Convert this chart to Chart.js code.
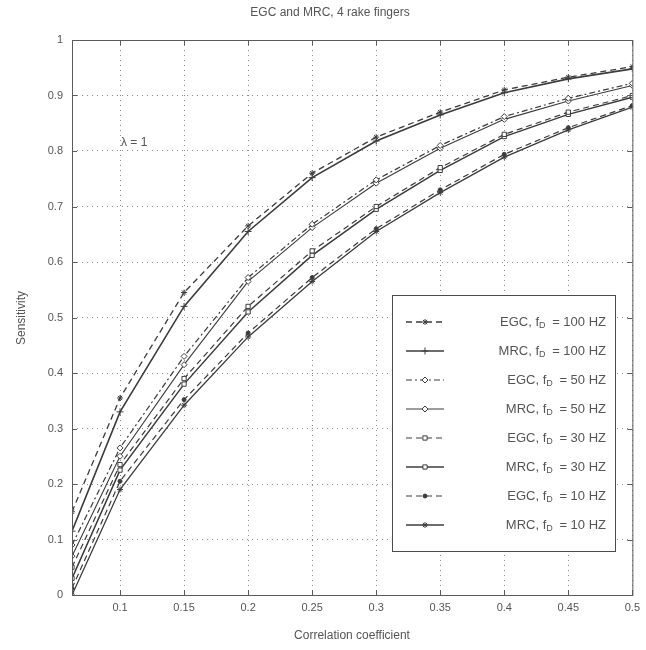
<!DOCTYPE html>
<html>
<head>
<meta charset="utf-8">
<script src="https://cdn.jsdelivr.net/npm/chart.js@4.4.1/dist/chart.umd.min.js"></script>
<style>
  html, body { margin: 0; padding: 0; background: #fff; }
  #wrap { width: 646px; height: 650px; }
</style>
</head>
<body>
<div id="wrap"><canvas id="chart" width="646" height="650"></canvas></div>
<script>
// correlation coefficient (x) and sensitivity for each combiner / doppler
const rho = [0.0625, 0.1, 0.15, 0.2, 0.25, 0.3, 0.35, 0.4, 0.45, 0.5];

const egc100 = [0.150, 0.355, 0.545, 0.665, 0.760, 0.825, 0.870, 0.910, 0.933, 0.952];
const mrc100 = [0.115, 0.330, 0.520, 0.655, 0.752, 0.818, 0.865, 0.905, 0.930, 0.948];
const egc50  = [0.090, 0.265, 0.430, 0.572, 0.668, 0.748, 0.810, 0.862, 0.895, 0.922];
const mrc50  = [0.070, 0.250, 0.415, 0.565, 0.662, 0.742, 0.805, 0.857, 0.890, 0.918];
const egc30  = [0.050, 0.235, 0.390, 0.520, 0.620, 0.700, 0.770, 0.830, 0.870, 0.900];
const mrc30  = [0.030, 0.225, 0.380, 0.510, 0.612, 0.695, 0.765, 0.826, 0.866, 0.897];
const egc10  = [0.012, 0.205, 0.352, 0.472, 0.572, 0.660, 0.730, 0.794, 0.842, 0.882];
const mrc10  = [0.000, 0.190, 0.342, 0.465, 0.565, 0.655, 0.725, 0.789, 0.838, 0.879];

const combiner = ['EGC', 'MRC', 'EGC', 'MRC', 'EGC', 'MRC', 'EGC', 'MRC'];
const dopplerHz = ['100', '100', '50', '50', '30', '30', '10', '10'];

const xTicks = [0.1, 0.15, 0.2, 0.25, 0.3, 0.35, 0.4, 0.45, 0.5];
const xTickLabels = ['0.1', '0.15', '0.2', '0.25', '0.3', '0.35', '0.4', '0.45', '0.5'];
const yTickLabels = ['0', '0.1', '0.2', '0.3', '0.4', '0.5', '0.6', '0.7', '0.8', '0.9', '1'];

const titleText = 'EGC and MRC, 4 rake fingers';
const xTitle = 'Correlation coefficient';
const yTitle = 'Sensitivity';
const noteText = 'λ = 1';

const ink = '#3c3c3c';
const textColor = '#555555';
const fontFamily = '"Liberation Sans", Arial, sans-serif';

// line look per series: dash pattern, marker, width
const styles = [
    { dash: [6, 4], point: 'star', width: 1.3, radius: 3 },
    { dash: [], point: 'cross', width: 1.6, radius: 3.5 },
    { dash: [6, 3, 2, 3], point: 'rectRot', width: 1.2, radius: 3 },
    { dash: [], point: 'rectRot', width: 1.1, radius: 3 },
    { dash: [6, 4], point: 'rect', width: 1.2, radius: 3 },
    { dash: [], point: 'rect', width: 1.5, radius: 3 },
    { dash: [6, 4], point: 'circle', width: 1.2, radius: 2 },
    { dash: [], point: 'star', width: 1.3, radius: 3 }
];

const allSeries = [egc100, mrc100, egc50, mrc50, egc30, mrc30, egc10, mrc10];

const datasets = allSeries.map((vals, i) => ({
    label: combiner[i] + ', fD = ' + dopplerHz[i] + ' HZ',
    data: vals.map((v, k) => ({ x: rho[k], y: v })),
    borderColor: ink,
    backgroundColor: styles[i].point === 'circle' ? ink : '#ffffff',
    borderWidth: styles[i].width,
    borderDash: styles[i].dash,
    pointStyle: styles[i].point,
    pointRadius: styles[i].radius,
    pointBorderWidth: 1,
    pointBorderColor: ink,
    pointBackgroundColor: styles[i].point === 'circle' ? ink : '#ffffff',
    tension: 0,
    fill: false
}));

// box, inside ticks, titles, note and legend
const decorations = {
    id: 'decorations',
    afterDatasetsDraw(chart) {
        const ctx = chart.ctx;
        const a = chart.chartArea;
        const xs = chart.scales.x;
        const ys = chart.scales.y;
        ctx.save();

        ctx.strokeStyle = '#5a5a5a';
        ctx.lineWidth = 1;
        ctx.setLineDash([]);
        ctx.strokeRect(a.left + 0.5, a.top + 0.5, a.right - a.left, a.bottom - a.top);

        const tl = 5;
        ctx.beginPath();
        xTicks.forEach(v => {
            const px = Math.round(xs.getPixelForValue(v)) + 0.5;
            ctx.moveTo(px, a.bottom); ctx.lineTo(px, a.bottom - tl);
            ctx.moveTo(px, a.top); ctx.lineTo(px, a.top + tl);
        });
        yTickLabels.forEach((_, k) => {
            const py = Math.round(ys.getPixelForValue(k / 10)) + 0.5;
            ctx.moveTo(a.left, py); ctx.lineTo(a.left + tl, py);
            ctx.moveTo(a.right, py); ctx.lineTo(a.right - tl, py);
        });
        ctx.stroke();

        ctx.fillStyle = textColor;
        ctx.font = '12px ' + fontFamily;
        ctx.textAlign = 'center';
        ctx.textBaseline = 'middle';
        ctx.fillText(titleText, 330, 13);
        ctx.fillText(xTitle, 352, 636);

        ctx.save();
        ctx.translate(22, 318);
        ctx.rotate(-Math.PI / 2);
        ctx.fillText(yTitle, 0, 0);
        ctx.restore();

        ctx.textAlign = 'left';
        ctx.fillText(noteText, 121, 143);

        // legend
        const box = { left: 392, top: 295, right: 615, bottom: 551 };
        ctx.fillStyle = '#ffffff';
        ctx.fillRect(box.left, box.top, box.right - box.left, box.bottom - box.top);
        ctx.strokeStyle = '#4a4a4a';
        ctx.lineWidth = 1;
        ctx.strokeRect(box.left + 0.5, box.top + 0.5, box.right - box.left, box.bottom - box.top);

        chart.data.datasets.forEach((ds, i) => {
            const y = 322 + i * 29;
            ctx.strokeStyle = ink;
            ctx.lineWidth = ds.borderWidth;
            ctx.setLineDash(ds.borderDash);
            ctx.beginPath();
            ctx.moveTo(406, y);
            ctx.lineTo(444, y);
            ctx.stroke();
            ctx.setLineDash([]);
            ctx.fillStyle = ds.pointBackgroundColor;
            ctx.strokeStyle = ink;
            ctx.lineWidth = 1;
            Chart.helpers.drawPoint(ctx, {
                pointStyle: ds.pointStyle, radius: ds.pointRadius, borderWidth: 1, rotation: 0
            }, 425, y);

            const head = combiner[i] + ', f';
            const tail = ' = ' + dopplerHz[i] + ' HZ';
            ctx.font = '13px ' + fontFamily;
            const wHead = ctx.measureText(head).width;
            const wTail = ctx.measureText(tail).width;
            ctx.font = '9px ' + fontFamily;
            const wSub = ctx.measureText('D').width;
            let x0 = 606 - (wHead + wSub + 3 + wTail);
            ctx.fillStyle = textColor;
            ctx.textAlign = 'left';
            ctx.font = '13px ' + fontFamily;
            ctx.fillText(head, x0, y);
            ctx.font = '9px ' + fontFamily;
            ctx.fillText('D', x0 + wHead, y + 4);
            ctx.font = '13px ' + fontFamily;
            ctx.fillText(tail, x0 + wHead + wSub + 3, y);
        });

        ctx.restore();
    }
};

new Chart(document.getElementById('chart'), {
    type: 'line',
    data: { datasets: datasets },
    plugins: [decorations],
    options: {
        responsive: false,
        animation: false,
        layout: { padding: { top: 40, right: 10, left: 0, bottom: 0 } },
        plugins: {
            legend: { display: false },
            tooltip: { enabled: false }
        },
        scales: {
            x: {
                type: 'linear',
                min: 0.0625,
                max: 0.5,
                afterBuildTicks: scale => {
                    scale.ticks = xTicks.map(v => ({ value: v }));
                },
                afterFit: scale => { scale.height = 55; },
                grid: { color: '#8a8a8a', lineWidth: 1, drawTicks: false },
                border: { display: false, dash: [1, 4] },
                ticks: {
                    color: textColor,
                    font: { size: 11, family: fontFamily },
                    padding: 6,
                    maxRotation: 0,
                    callback: (v, idx) => xTickLabels[idx]
                }
            },
            y: {
                min: 0,
                max: 1,
                afterFit: scale => { scale.width = 72; },
                grid: { color: '#8a8a8a', lineWidth: 1, drawTicks: false },
                border: { display: false, dash: [1, 4] },
                ticks: {
                    stepSize: 0.1,
                    color: textColor,
                    font: { size: 11, family: fontFamily },
                    padding: 9,
                    callback: (v, idx) => yTickLabels[idx]
                }
            }
        }
    }
});
</script>
</body>
</html>
